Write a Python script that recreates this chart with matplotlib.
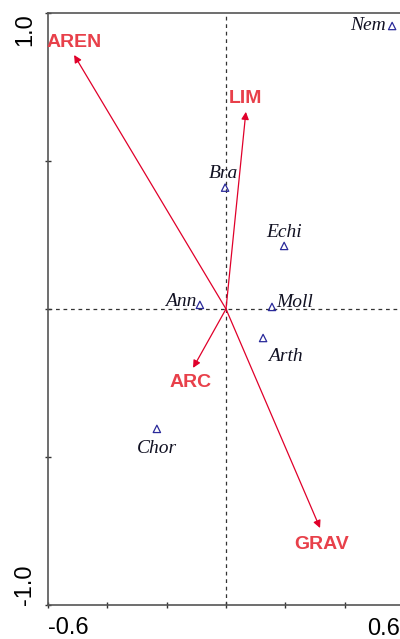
import matplotlib.pyplot as plt
import numpy as np

# species scores (axis 1, axis 2)
species = ['Nem', 'Bra', 'Echi', 'Ann', 'Moll', 'Arth', 'Chor']
sp_x = [0.56, -0.003, 0.196, -0.088, 0.155, 0.125, -0.233]
sp_y = [0.956, 0.41, 0.213, 0.014, 0.007, -0.098, -0.405]

# environmental variable arrows
env = ['AREN', 'LIM', 'ARC', 'GRAV']
env_x = [-0.512, 0.067, -0.111, 0.317]
env_y = [0.858, 0.666, -0.199, -0.74]

fig = plt.figure(figsize=(4.0, 6.39), dpi=100)
ax = fig.add_axes([0.12, 0.0532, 0.89, 0.9265])
ax.set_xlim(-0.6, 0.6)
ax.set_ylim(-1.0, 1.0)

# reference lines through origin
ax.axhline(0, color='#333333', ls=(0, (3, 3)), lw=0.9, zorder=1)
ax.axvline(0, color='#333333', ls=(0, (3, 3)), lw=0.9, zorder=1)

# arrows from origin
for x, y in zip(env_x, env_y):
    ax.annotate('', xy=(x, y), xytext=(0, 0),
                arrowprops=dict(arrowstyle='-|>', color='#e0002a', lw=0.9,
                                mutation_scale=11, shrinkA=0, shrinkB=0),
                zorder=3)

# label positions near arrow tips
env_lab = {'AREN': (-0.512, 0.9), 'LIM': (0.064, 0.71),
           'ARC': (-0.121, -0.248), 'GRAV': (0.324, -0.795)}
for name in env:
    tx, ty = env_lab[name]
    ax.text(tx, ty, name, color='#e8404a', fontsize=14, fontweight='bold',
            family='Liberation Sans', ha='center', va='center', zorder=4)

# species triangles
ax.scatter(sp_x, sp_y, marker='^', s=28, facecolors='none',
           edgecolors='#2a2a9a', linewidths=0.9, zorder=4)

sp_lab = {'Nem': (0.54, 0.958, 'right'), 'Bra': (-0.01, 0.458, 'center'),
          'Echi': (0.195, 0.26, 'center'), 'Ann': (-0.1, 0.025, 'right'),
          'Moll': (0.17, 0.022, 'left'), 'Arth': (0.2, -0.162, 'center'),
          'Chor': (-0.233, -0.47, 'center')}
for name in species:
    tx, ty, ha = sp_lab[name]
    ax.text(tx, ty, name, fontsize=14, style='italic', family='Liberation Serif',
            color='#111122', ha=ha, va='center', zorder=5)

# axes frame
for side in ['left', 'bottom', 'top']:
    ax.spines[side].set_color('#555555')
    ax.spines[side].set_linewidth(1.2)
ax.spines['right'].set_visible(False)

ax.set_xticks(np.arange(-0.6, 0.61, 0.2))
ax.set_xticklabels(['-0.6', '', '', '', '', '', ''])
ax.set_yticks([-1.0, -0.5, 0.0, 0.5, 1.0])
ax.set_yticklabels(['-1.0', '', '', '', '1.0'], rotation=90)
ax.tick_params(direction='inout', length=5, width=1, color='#333333',
               labelsize=17, pad=6)
xl = ax.get_xticklabels()
xl[0].set_ha('left')
yl = ax.get_yticklabels()
yl[0].set_va('bottom')
yl[-1].set_va('top')
for t in xl + yl:
    t.set_family('Liberation Sans')

# right end label, pulled in so it stays on the canvas
ax.annotate('0.6', xy=(0.6, 0), xycoords=('data', 'axes fraction'),
            xytext=(-3, -9), textcoords='offset points', ha='right', va='top',
            fontsize=17, family='Liberation Sans', annotation_clip=False)

fig.savefig('out.png', dpi=100)
